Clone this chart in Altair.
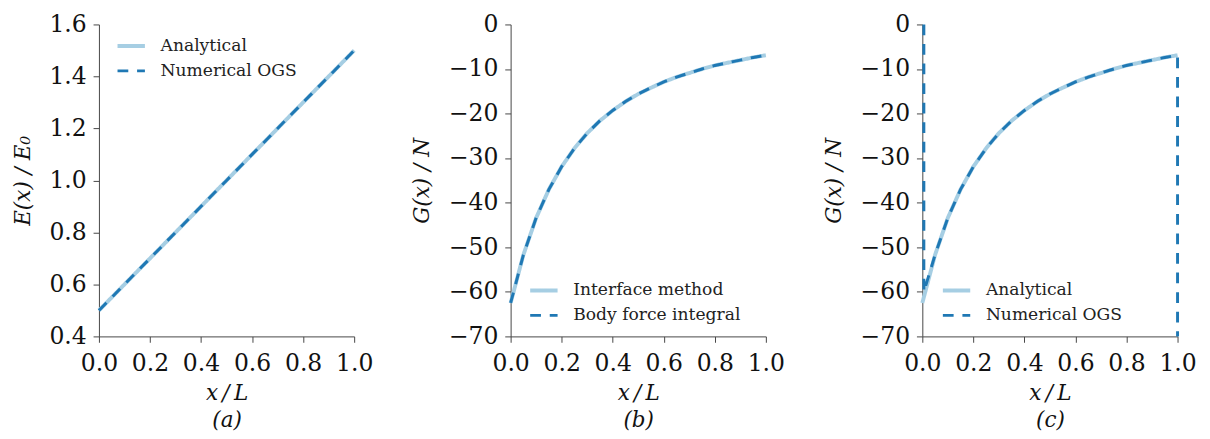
import altair as alt
import pandas as pd

LIGHT = "#a6cee3"
DARK = "#1f78b4"
FONT = "DejaVu Serif"

# Panel (a)
x_a = [0.0, 0.25, 0.5, 0.75, 1.0]
e_analytical = [0.5, 0.75, 1.0, 1.25, 1.5]
e_numerical = [0.5, 0.75, 1.0, 1.25, 1.5]

# Panels (b) and (c)
x_g = [0.0, 0.05, 0.1, 0.15, 0.2, 0.25, 0.3, 0.35, 0.4, 0.45, 0.5,
       0.55, 0.6, 0.65, 0.7, 0.75, 0.8, 0.85, 0.9, 0.95, 1.0]
g_analytical = [-62.5, -51.7, -43.4, -37.0, -31.9, -27.8, -24.4, -21.6, -19.3, -17.3, -15.6,
                -14.2, -12.9, -11.8, -10.9, -10.0, -9.2, -8.6, -8.0, -7.4, -6.9]
g_body = [-62.5, -51.7, -43.4, -37.0, -31.9, -27.8, -24.4, -21.6, -19.3, -17.3, -15.6,
          -14.2, -12.9, -11.8, -10.9, -10.0, -9.2, -8.6, -8.0, -7.4, -6.9]
x_c_num = [0.006, 0.006, 0.05, 0.1, 0.15, 0.2, 0.25, 0.3, 0.35, 0.4, 0.45, 0.5,
           0.55, 0.6, 0.65, 0.7, 0.75, 0.8, 0.85, 0.9, 0.95, 1.0, 1.0]
g_c_num = [0.0, -60.0, -51.7, -43.4, -37.0, -31.9, -27.8, -24.4, -21.6, -19.3, -17.3, -15.6,
           -14.2, -12.9, -11.8, -10.9, -10.0, -9.2, -8.6, -8.0, -7.4, -6.9, -70.0]

names_ac = ["Analytical", "Numerical OGS"]
names_b = ["Interface method", "Body force integral"]

x_ticks = [0.0, 0.2, 0.4, 0.6, 0.8, 1.0]
ya_ticks = [0.4, 0.6, 0.8, 1.0, 1.2, 1.4, 1.6]
yg_ticks = [-70, -60, -50, -40, -30, -20, -10, 0]

X_TITLE = "x\u2009/\u2009L"


def frame(xs1, ys1, xs2, ys2, names):
    rows = []
    for i, (x, y) in enumerate(zip(xs1, ys1)):
        rows.append({"x": x, "y": y, "series": names[0], "i": i})
    for i, (x, y) in enumerate(zip(xs2, ys2)):
        rows.append({"x": x, "y": y, "series": names[1], "i": i})
    return pd.DataFrame(rows)


def panel(df, names, ytitle, ydom, yvals, yfmt, sub, lx, ly):
    leg = alt.Legend(title=None, orient="none", legendX=lx, legendY=ly,
                     symbolType="stroke", symbolSize=784, symbolStrokeWidth=3.5,
                     labelFont=FONT, labelFontSize=17.5, labelOffset=14, labelLimit=400,
                     rowPadding=1, padding=0, labelColor="#222")
    return alt.Chart(df).mark_line(strokeCap="butt", clip=False).encode(
        x=alt.X("x:Q", scale=alt.Scale(domain=[0, 1], nice=False),
                axis=alt.Axis(values=x_ticks, format=".1f", title=[X_TITLE, sub])),
        y=alt.Y("y:Q", scale=alt.Scale(domain=ydom, nice=False),
                axis=alt.Axis(values=yvals, format=yfmt, title=ytitle)),
        color=alt.Color("series:N", scale=alt.Scale(domain=names, range=[LIGHT, DARK]), legend=leg),
        strokeDash=alt.StrokeDash("series:N", scale=alt.Scale(domain=names, range=[[1, 0], [11, 9]]), legend=leg),
        strokeWidth=alt.StrokeWidth("series:N", scale=alt.Scale(domain=names, range=[4, 3]), legend=None),
        order="i:Q",
    ).properties(width=261, height=319)


pa = panel(frame(x_a, e_analytical, x_a, e_numerical, names_ac), names_ac,
           "E(x) / E₀", [0.4, 1.6], ya_ticks, ".1f", "(a)", 17, 6)
pb = panel(frame(x_g, g_analytical, x_g, g_body, names_b), names_b,
           "G(x) / N", [-70, 0], yg_ticks, "d", "(b)", 18, 256)
pc = panel(frame(x_g, g_analytical, x_c_num, g_c_num, names_ac), names_ac,
           "G(x) / N", [-70, 0], yg_ticks, "d", "(c)", 19, 256)

chart = alt.hconcat(pa, pb, pc, spacing=38).resolve_scale(
    color="independent", strokeDash="independent", strokeWidth="independent"
).resolve_legend(color="independent", strokeDash="independent").configure(
    padding={"left": 3, "top": 0, "right": 5, "bottom": 0}
).configure_view(
    stroke=None
).configure_axis(
    grid=False, labelFont=FONT, labelFontSize=24, labelColor="#111",
    tickSize=6, tickColor="#444", domainColor="#444", tickWidth=1, domainWidth=1,
    labelPadding=7, titleFont=FONT, titleFontStyle="italic", titleFontWeight="normal",
    titleFontSize=22, titleColor="#111", titleLineHeight=27, titlePadding=10,
    labelFlush=False,
).configure_axisY(
    titlePadding=15
).configure_axisX(
    labelPadding=10, titlePadding=8
)

chart.save("out.html", embed_options={"renderer": "svg", "actions": False})
